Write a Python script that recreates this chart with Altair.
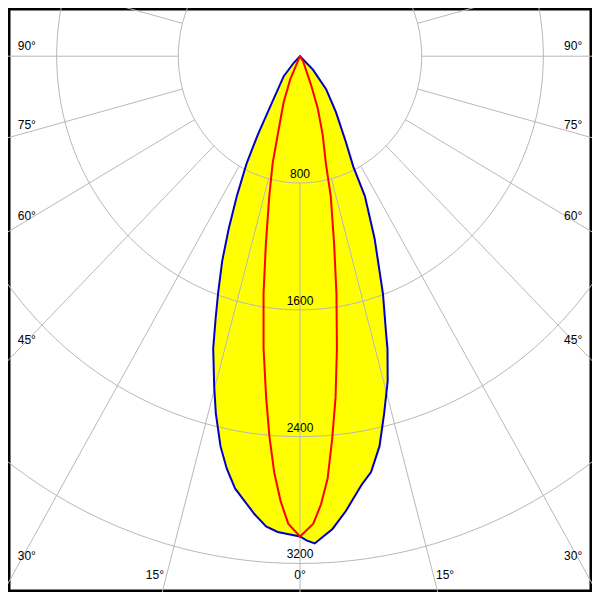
import altair as alt
import pandas as pd
import numpy as np

# Luminous intensity (cd) against gamma angle (deg)
blue_left_gamma = [0, 2.8, 4.3, 5.9, 7.4, 8.9, 10.5, 12.0, 13.8, 15.1, 17.2, 18.5, 19.8, 21.6, 23.3, 25.2, 27.4, 29.3, 31.8, 40.3, 44.1, 50]
blue_left_cd = [3030, 3005, 2975, 2905, 2830, 2760, 2645, 2515, 2320, 2165, 1930, 1750, 1590, 1390, 1185, 975, 765, 565, 365, 165, 60, 0]
blue_right_gamma = [0.8, 1.8, 4.1, 6.0, 8.5, 10.1, 12.0, 13.8, 15.7, 17.3, 18.0, 20.0, 23.1, 25.8, 26.7, 29.2, 33.8, 39.5, 45.1, 50]
blue_right_cd = [3055, 3075, 2990, 2885, 2735, 2665, 2515, 2320, 2130, 1935, 1830, 1595, 1250, 980, 780, 615, 425, 270, 120, 0]
red_left_gamma = [0, 1.5, 2.6, 3.7, 4.8, 5.9, 7.4, 9.1, 10.7, 12.9, 14.9, 17.0, 20.3, 23.7, 35]
red_left_cd = [3030, 2950, 2810, 2630, 2405, 2165, 1860, 1515, 1210, 905, 700, 475, 310, 160, 0]
red_right_gamma = [1.7, 2.8, 3.9, 5.0, 6.2, 7.5, 9.1, 10.7, 12.9, 14.1, 16.8, 19.5, 21.8, 32, 35]
red_right_cd = [2950, 2830, 2670, 2425, 2165, 1860, 1515, 1210, 905, 700, 515, 350, 200, 40, 0]

ring_values = [800, 1600, 2400, 3200]
spoke_angles = list(range(0, 360, 15))
edge_labels = [30, 45, 60, 75, 90]
bottom_labels = [0, 15]

X_DOM = [-1920, 1920]
Y_DOM = [-3380, 304]
W = H = 584
FONT = "Liberation Sans"
FS = 12

def curve(name, lg, lc, rg, rc):
    rows, seq = [], 0
    for g, c in reversed(list(zip(lg, lc))):
        rows.append(dict(curve=name, side=-1, gamma=g, cd=c, seq=seq)); seq += 1
    for g, c in zip(rg, rc):
        rows.append(dict(curve=name, side=1, gamma=g, cd=c, seq=seq)); seq += 1
    return pd.DataFrame(rows)

blue = curve("C0-C180", blue_left_gamma, blue_left_cd, blue_right_gamma, blue_right_cd)
red = curve("C90-C270", red_left_gamma, red_left_cd, red_right_gamma, red_right_cd)

xs = alt.Scale(domain=X_DOM, nice=False, zero=False)
ys = alt.Scale(domain=Y_DOM, nice=False, zero=False)
X = alt.X("x:Q", scale=xs, axis=None)
Y = alt.Y("y:Q", scale=ys, axis=None)

def polar(ch):
    return ch.transform_calculate(
        x="datum.side * datum.cd * sin(datum.gamma * PI / 180)",
        y="-datum.cd * cos(datum.gamma * PI / 180)",
    )

fill = polar(alt.Chart(blue)).mark_line(
    fill="#ffff00", stroke="#ffff00", strokeWidth=0.5, interpolate="linear-closed", clip=True
).encode(x=X, y=Y, order="seq:Q")

# grid rings
ring_rows = []
for r in ring_values:
    for a in range(0, 361, 2):
        ring_rows.append(dict(ring=r, ang=a))
rings = alt.Chart(pd.DataFrame(ring_rows)).transform_calculate(
    x="datum.ring * sin(datum.ang * PI / 180)",
    y="-datum.ring * cos(datum.ang * PI / 180)",
).mark_line(color="#b8b8b8", strokeWidth=1, clip=True).encode(
    x=X, y=Y, detail="ring:N", order="ang:Q"
)

spokes = alt.Chart(pd.DataFrame({"ang": spoke_angles})).transform_calculate(
    x=f"{ring_values[0]} * sin(datum.ang * PI / 180)",
    y=f"-{ring_values[0]} * cos(datum.ang * PI / 180)",
    x2="8000 * sin(datum.ang * PI / 180)",
    y2="-8000 * cos(datum.ang * PI / 180)",
).mark_rule(color="#b8b8b8", strokeWidth=1, clip=True).encode(
    x=X, y=Y, x2="x2:Q", y2="y2:Q"
)

blue_line = polar(alt.Chart(blue)).mark_line(
    color="#0000c8", strokeWidth=2, interpolate="linear-closed", clip=True
).encode(x=X, y=Y, order="seq:Q")

red_line = polar(alt.Chart(red)).mark_line(
    color="#ff0000", strokeWidth=2, clip=True
).encode(x=X, y=Y, order="seq:Q")

ring_labels = alt.Chart(pd.DataFrame({"cd": ring_values})).transform_calculate(
    x="0", y="-datum.cd", label="'' + datum.cd"
).mark_text(font=FONT, fontSize=FS, color="black", baseline="bottom", dy=-2).encode(
    x=X, y=Y, text="label:N"
)

# angle labels placed where each spoke meets the frame
cd_per_px_x = (X_DOM[1] - X_DOM[0]) / 600
cd_per_px_y = (Y_DOM[1] - Y_DOM[0]) / 600
lab_rows = []
xe = X_DOM[1] - 10 * cd_per_px_x
for a in edge_labels:
    yv = -xe / np.tan(np.radians(a)) if a != 90 else 0.0
    lab_rows.append(dict(x=-xe, y=yv, t=f"{a}°", al="left"))
    lab_rows.append(dict(x=xe, y=yv, t=f"{a}°", al="right"))
yb = Y_DOM[0] + 7 * cd_per_px_y
for a in bottom_labels:
    xv = -yb * np.tan(np.radians(a))
    if a == 0:
        lab_rows.append(dict(x=0.0, y=yb, t="0°", al="center"))
    else:
        lab_rows.append(dict(x=-xv, y=yb, t=f"{a}°", al="right"))
        lab_rows.append(dict(x=xv, y=yb, t=f"{a}°", al="left"))
lab = pd.DataFrame(lab_rows)

def labels(al):
    return alt.Chart(lab[lab.al == al]).mark_text(
        font=FONT, fontSize=FS, color="black", baseline="bottom", dy=-3, align=al
    ).encode(x=alt.X("x:Q", scale=xs, axis=None), y=alt.Y("y:Q", scale=ys, axis=None), text="t:N")

chart = alt.layer(
    fill, rings, spokes, blue_line, red_line, ring_labels,
    labels("left"), labels("right"), labels("center"),
).properties(
    width=W, height=H, padding=0, autosize="none", background="white"
).configure_view(stroke="black", strokeWidth=5)

chart.save("out.html", embed_options={"renderer": "svg", "actions": False})
